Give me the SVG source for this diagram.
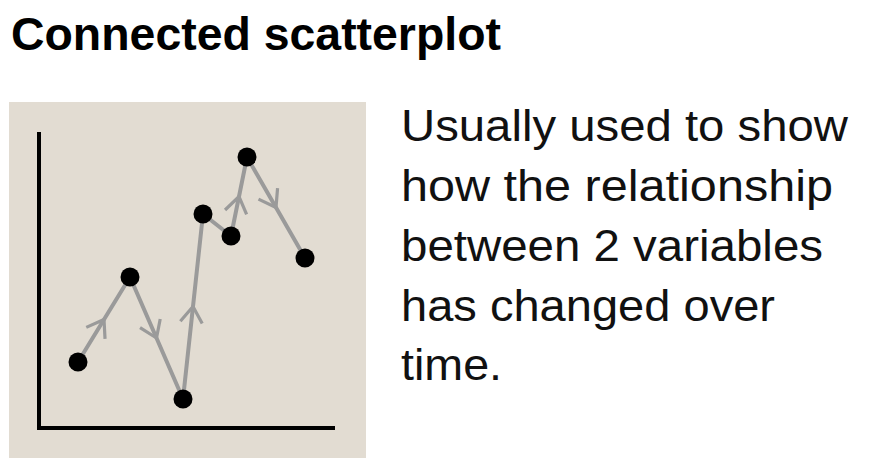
<svg xmlns="http://www.w3.org/2000/svg" width="880" height="470" viewBox="0 0 880 470">
<defs>
<style>
.title{font-family:"Liberation Sans",Arial,sans-serif;font-weight:bold;font-size:46px;fill:#000}
.desc{font-family:"Liberation Sans",Arial,sans-serif;font-size:45px;fill:#111}
.seg{fill:none;stroke:#9a9a9a;stroke-width:4;stroke-linecap:round}
.axis{fill:none;stroke:#000;stroke-width:4}
.dot{fill:#000}
</style>
<marker id="chev" markerUnits="userSpaceOnUse" markerWidth="40" markerHeight="40" viewBox="-20 -20 40 40" refX="0" refY="0" orient="auto">
<path d="M-16,-11 L0,0 L-16,11" fill="none" stroke="#9a9a9a" stroke-width="3.2"/>
</marker>
</defs>
<rect width="880" height="470" fill="#fff"/>
<text class="title" x="11" y="50" textLength="490" lengthAdjust="spacingAndGlyphs">Connected scatterplot</text>
<g id="panel">
<rect x="9" y="102" width="357" height="356" fill="#e2dcd2"/>
<path class="axis" d="M39,132 L39,428 L335,428"/>
</g>
<g id="connectors">
<path class="seg" marker-mid="url(#chev)" d="M78,362 L104,319.5 L130,277"/>
<path class="seg" marker-mid="url(#chev)" d="M130,277 L156.5,338 L183,399"/>
<path class="seg" marker-mid="url(#chev)" d="M183,399 L193,306.5 L203,214"/>
<path class="seg" d="M203,214 L231,236"/>
<path class="seg" marker-mid="url(#chev)" d="M231,236 L239,196.5 L247,157"/>
<path class="seg" marker-mid="url(#chev)" d="M247,157 L276,207.5 L305,258"/>
</g>
<g id="p1"><circle class="dot" cx="78" cy="362" r="9.5"/></g>
<g id="p2"><circle class="dot" cx="130" cy="277" r="9.5"/></g>
<g id="p3"><circle class="dot" cx="183" cy="399" r="9.5"/></g>
<g id="p4"><circle class="dot" cx="203" cy="214" r="9.5"/></g>
<g id="p5"><circle class="dot" cx="231" cy="236" r="9.5"/></g>
<g id="p6"><circle class="dot" cx="247" cy="157" r="9.5"/></g>
<g id="p7"><circle class="dot" cx="305" cy="258" r="9.5"/></g>
<g id="description">
<text class="desc" x="401" y="141" textLength="447" lengthAdjust="spacingAndGlyphs">Usually used to show</text>
<text class="desc" x="401" y="201" textLength="432" lengthAdjust="spacingAndGlyphs">how the relationship</text>
<text class="desc" x="401" y="261" textLength="422" lengthAdjust="spacingAndGlyphs">between 2 variables</text>
<text class="desc" x="401" y="321" textLength="374" lengthAdjust="spacingAndGlyphs">has changed over</text>
<text class="desc" x="401" y="380" textLength="101" lengthAdjust="spacingAndGlyphs">time.</text>
</g>
</svg>
